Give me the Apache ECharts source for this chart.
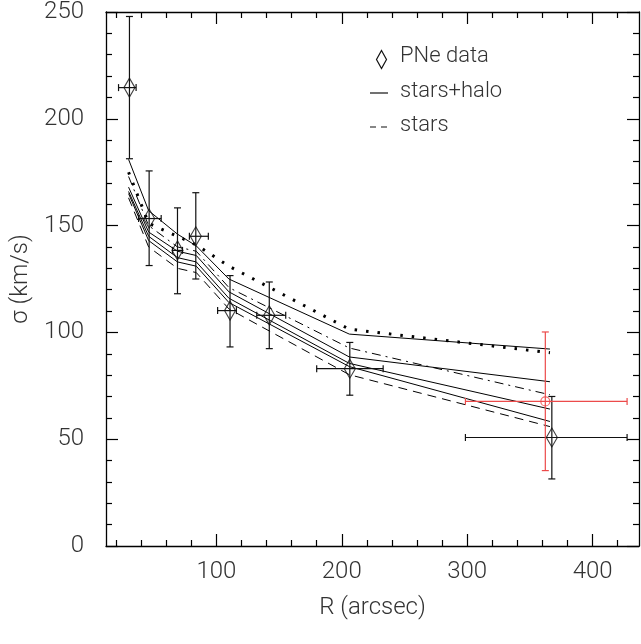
<!DOCTYPE html>
<html>
<head>
<meta charset="utf-8">
<script src="https://cdn.jsdelivr.net/npm/echarts@6/dist/echarts.min.js"></script>
<style>
html,body{margin:0;padding:0;background:#fff;}
#chart{width:641px;height:644px;}
</style>
</head>
<body>
<div id="chart"></div>
<script>
// ---- data ----
const xMajorTicks = [100, 200, 300, 400];
const xMinorTicks = [20, 40, 60, 80, 120, 140, 160, 180, 220, 240, 260, 280, 320, 340, 360, 380, 420];

// PNe data points with error bars
const pneR      = [30.7, 46.4, 69.0, 83.6, 110.9, 142.2, 206.4, 367.5];
const pneSigma  = [214.6, 153.3, 138.4, 145.0, 110.2, 108.0, 83.0, 50.8];
const pneSigLo  = [181.3, 131.3, 118.1, 125.0, 93.2, 92.4, 70.6, 31.4];
const pneSigHi  = [247.9, 175.6, 158.3, 165.4, 126.6, 123.6, 95.3, 70.0];
const pneRLo    = [22, 38, 65, 78.5, 101, 132.2, 180, 298.6];
const pneRHi    = [36, 56, 73, 93.6, 116, 155.3, 233, 427.5];

// red point
const redR = [362.3];
const redSigma = [67.7];
const redSigLo = [35.3];
const redSigHi = [100.2];
const redRLo = [298.6];
const redRHi = [427.5];

// model curves
const modelR      = [30, 46, 69, 84, 110, 206, 366];
const solidTop    = [181, 157, 146, 140.5, 125, 99.2, 92.2];
const dottedLine  = [175, 151, 145, 141, 131, 101.5, 90.5];
const dashDotLine = [173, 150, 140, 138, 121, 92.7, 70.8];
const solid2      = [168, 147, 138, 136, 119, 88.5, 76.9];
const solid3      = [166, 145, 135, 133, 116, 85.5, 64.1];
const solid4      = [165, 143, 133, 131, 114, 84.0, 58.3];
const dashedLine  = [163, 140, 130, 128, 111, 80.2, 55.9];

const legendLabels = ['PNe data', 'stars+halo', 'stars'];

// ---- build ----
const FONT = 'Roboto';
const TXT = '#333';
const RED = '#ec4a4a';
function pairs(xs, ys){ return xs.map((x,i)=>[x, ys[i]]); }
function errData(r, s, slo, shi, rlo, rhi){ return r.map((x,i)=>[x, s[i], slo[i], shi[i], rlo[i], rhi[i]]); }

function errRender(color){
  return function(params, api){
    const x = api.value(0), y = api.value(1);
    const ylo = api.value(2), yhi = api.value(3), xlo = api.value(4), xhi = api.value(5);
    const pTop = api.coord([x, yhi]), pBot = api.coord([x, ylo]);
    const pL = api.coord([xlo, y]), pR = api.coord([xhi, y]);
    const c = 3.5;
    const st = {stroke: color, lineWidth: 1.2};
    const seg = (x1,y1,x2,y2)=>({type:'line', shape:{x1,y1,x2,y2}, style: st});
    return {type:'group', children:[
      seg(pTop[0], pTop[1], pBot[0], pBot[1]),
      seg(pTop[0]-c, pTop[1], pTop[0]+c, pTop[1]),
      seg(pBot[0]-c, pBot[1], pBot[0]+c, pBot[1]),
      seg(pL[0], pL[1], pR[0], pR[1]),
      seg(pL[0], pL[1]-c, pL[0], pL[1]+c),
      seg(pR[0], pR[1]-c, pR[0], pR[1]+c)
    ]};
  };
}

function lineSeries(ys, type, width){
  return {type:'line', data: pairs(modelR, ys), symbol:'none', silent:true,
    lineStyle:{color:'#000', width: width || 1, type: type || 'solid', cap:'butt'}, z:2};
}

const axisLineStyle = {lineStyle:{color:'#000', width:1.3}};
const tickStyle = {color:'#000', width:1.2};

const xBase = {type:'value', min:12, max:437, splitLine:{show:false}};
const option = {
  animation:false,
  backgroundColor:'#fff',
  grid:{left:106, right:2, top:12, bottom:98},
  xAxis:[
    Object.assign({}, xBase, {position:'bottom', axisLine:axisLineStyle,
      axisTick:{show:true, inside:true, length:12, lineStyle:tickStyle, customValues:xMajorTicks},
      axisLabel:{show:true, customValues:xMajorTicks, margin:14, fontFamily:FONT, fontWeight:300, fontSize:24, color:TXT},
      name:'R (arcsec)', nameLocation:'middle', nameGap:50,
      nameTextStyle:{fontFamily:FONT, fontWeight:300, fontSize:24, color:TXT}}),
    Object.assign({}, xBase, {position:'bottom', axisLine:{show:false},
      axisTick:{show:true, inside:true, length:6, lineStyle:tickStyle, customValues:xMinorTicks},
      axisLabel:{show:false}}),
    Object.assign({}, xBase, {position:'top', axisLine:axisLineStyle,
      axisTick:{show:true, inside:true, length:12, lineStyle:tickStyle, customValues:xMajorTicks},
      axisLabel:{show:false}}),
    Object.assign({}, xBase, {position:'top', axisLine:{show:false},
      axisTick:{show:true, inside:true, length:6, lineStyle:tickStyle, customValues:xMinorTicks},
      axisLabel:{show:false}})
  ],
  yAxis:[
    {type:'value', min:0, max:250, interval:50, position:'left', splitLine:{show:false},
      axisLine:Object.assign({show:true}, axisLineStyle),
      axisTick:{show:true, inside:true, length:12, lineStyle:tickStyle},
      minorTick:{show:true, splitNumber:5, length:6, lineStyle:tickStyle},
      axisLabel:{margin:22, fontFamily:FONT, fontWeight:300, fontSize:24, color:TXT},
      name:'σ (km/s)', nameLocation:'middle', nameGap:67, nameRotate:90,
      nameTextStyle:{fontFamily:FONT, fontWeight:300, fontSize:24, color:TXT}},
    {type:'value', min:0, max:250, interval:50, position:'right', splitLine:{show:false},
      axisLine:Object.assign({show:true}, axisLineStyle),
      axisTick:{show:true, inside:true, length:12, lineStyle:tickStyle},
      minorTick:{show:true, splitNumber:5, length:6, lineStyle:tickStyle},
      axisLabel:{show:false}}
  ],
  series:[
    lineSeries(solidTop, 'solid', 1),
    lineSeries(dottedLine, [2.5, 9], 3),
    lineSeries(dashDotLine, [9, 5, 2, 5], 1),
    lineSeries(solid2, 'solid', 1),
    lineSeries(solid3, 'solid', 1),
    lineSeries(solid4, 'solid', 1),
    lineSeries(dashedLine, [9, 6], 1),
    {type:'custom', name:'PNe err', data: errData(pneR, pneSigma, pneSigLo, pneSigHi, pneRLo, pneRHi),
      renderItem: errRender('#111'), encode:{x:0, y:1}, z:3, silent:true},
    {type:'custom', name:'red err', data: errData(redR, redSigma, redSigLo, redSigHi, redRLo, redRHi),
      renderItem: errRender(RED), encode:{x:0, y:1}, z:3, silent:true},
    {type:'scatter', name:legendLabels[0], data: pairs(pneR, pneSigma), symbol:'diamond', symbolSize:[11,19],
      itemStyle:{color:'rgba(0,0,0,0)', borderColor:'#111', borderWidth:1.2}, z:4, silent:true},
    {type:'scatter', name:'red', data: pairs(redR, redSigma), symbol:'circle', symbolSize:9,
      itemStyle:{color:'rgba(0,0,0,0)', borderColor:RED, borderWidth:1.2}, z:4, silent:true}
  ],
  graphic:[
    {type:'polygon', left:374, top:48, shape:{points:[[5,0],[10,9],[5,18],[0,9]]}, style:{fill:'none', stroke:'#111', lineWidth:1.2}},
    {type:'text', left:400, top:45, style:{text:legendLabels[0], font:'300 22px Roboto', fill:TXT}},
    {type:'line', shape:{x1:370, y1:93, x2:388, y2:93}, style:{stroke:'#111', lineWidth:1.2}},
    {type:'text', left:400, top:80, style:{text:legendLabels[1], font:'300 22px Roboto', fill:TXT}},
    {type:'line', shape:{x1:370, y1:127, x2:388, y2:127}, style:{stroke:'#111', lineWidth:1.2, lineDash:[6,5]}},
    {type:'text', left:400, top:114, style:{text:legendLabels[2], font:'300 22px Roboto', fill:TXT}}
  ]
};

const chart = echarts.init(document.getElementById('chart'), null, {renderer:'canvas'});
chart.setOption(option);
</script>
</body>
</html>
